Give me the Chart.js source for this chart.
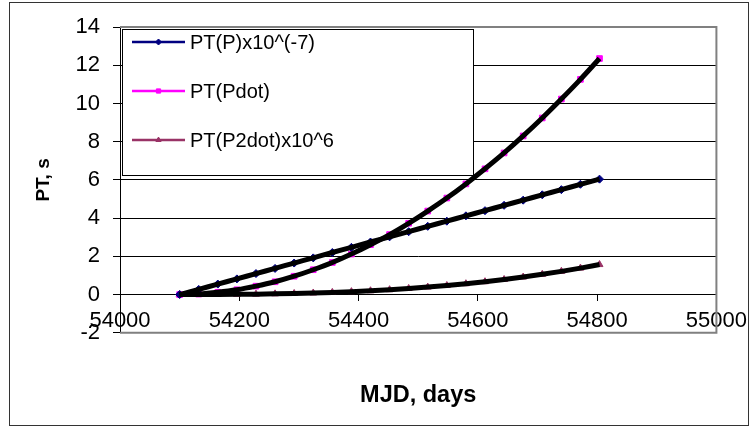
<!DOCTYPE html>
<html>
<head>
<meta charset="utf-8">
<script src="https://cdn.jsdelivr.net/npm/chart.js@4/dist/chart.umd.min.js"></script>
<style>
    body { margin: 0; background: #ffffff; }
    #wrap { width: 754px; height: 432px; }
</style>
</head>
<body>
<div id="wrap"><canvas id="ChartPT" width="754" height="432"></canvas></div>
<script>
const mjd = [54100, 54132, 54164, 54196, 54228, 54260, 54292, 54324, 54356, 54388, 54420, 54452,
    54484, 54516, 54548, 54580, 54612, 54644, 54676, 54708, 54740, 54772, 54804];
const ptP = [0, 0.27, 0.55, 0.82, 1.10, 1.37, 1.65, 1.92, 2.20, 2.47, 2.75, 3.02,
    3.29, 3.57, 3.84, 4.12, 4.39, 4.67, 4.94, 5.22, 5.49, 5.77, 6.04];
const ptPdot = [0, 0.03, 0.12, 0.25, 0.44, 0.67, 0.96, 1.30, 1.68, 2.12, 2.61, 3.14,
    3.73, 4.37, 5.05, 5.79, 6.58, 7.41, 8.30, 9.24, 10.23, 11.26, 12.35];
const ptP2dot = [0, 0.001, 0.005, 0.012, 0.022, 0.037, 0.057, 0.083, 0.115, 0.154, 0.20, 0.255,
    0.319, 0.391, 0.474, 0.567, 0.672, 0.788, 0.917, 1.059, 1.215, 1.385, 1.57];

const seriesLabels = ['PT(P)x10^(-7)', 'PT(Pdot)', 'PT(P2dot)x10^6'];
const seriesColors = ['#000080', '#ff00ff', '#993366'];
const seriesMarkers = ['rectRot', 'rect', 'triangle'];
const seriesValues = [ptP, ptPdot, ptP2dot];

const FONT = "'Liberation Sans', Arial, sans-serif";

const datasets = [];
seriesValues.forEach((vals, i) => {
    const pts = mjd.map((m, k) => ({ x: m, y: vals[k] }));
    // coloured markers underneath
    datasets.push({
        label: seriesLabels[i],
        data: pts,
        showLine: false,
        pointStyle: seriesMarkers[i],
        pointRadius: 4,
        pointBackgroundColor: seriesColors[i],
        pointBorderColor: seriesColors[i],
        pointBorderWidth: 1,
        order: 2
    });
    // thick black line on top
    datasets.push({
        label: '',
        data: pts,
        borderColor: '#000000',
        borderWidth: 5,
        pointRadius: 0,
        cubicInterpolationMode: 'monotone',
        fill: false,
        order: 1
    });
});

const framePlugin = {
    id: 'frame',
    beforeDraw(chart) {
        const ctx = chart.ctx;
        ctx.save();
        ctx.fillStyle = '#ffffff';
        ctx.fillRect(0, 0, chart.width, chart.height);
        ctx.strokeStyle = '#333333';
        ctx.lineWidth = 1;
        ctx.strokeRect(9.5, 2.5, 739, 423);
        ctx.restore();
    },
    beforeDatasetsDraw(chart) {
        const a = chart.chartArea;
        const ctx = chart.ctx;
        ctx.save();
        ctx.strokeStyle = '#808080';
        ctx.lineWidth = 2;
        ctx.beginPath();
        ctx.moveTo(a.left, a.top);
        ctx.lineTo(a.right, a.top);
        ctx.lineTo(a.right, a.bottom);
        ctx.lineTo(a.left, a.bottom);
        ctx.stroke();
        ctx.restore();
    }
};

const legendPlugin = {
    id: 'excelLegend',
    afterDatasetsDraw(chart) {
        const ctx = chart.ctx;
        const box = { x: 122.5, y: 29.5, w: 351, h: 146 };
        ctx.save();
        ctx.fillStyle = '#ffffff';
        ctx.fillRect(box.x, box.y, box.w, box.h);
        ctx.strokeStyle = '#000000';
        ctx.lineWidth = 1;
        ctx.strokeRect(box.x, box.y, box.w, box.h);
        seriesLabels.forEach((lab, i) => {
            const y = 42 + i * 49;
            ctx.strokeStyle = seriesColors[i];
            ctx.lineWidth = 2.5;
            ctx.beginPath();
            ctx.moveTo(132, y);
            ctx.lineTo(185, y);
            ctx.stroke();
            ctx.fillStyle = seriesColors[i];
            ctx.lineWidth = 1;
            Chart.helpers.drawPoint(ctx, { pointStyle: seriesMarkers[i], radius: 3, borderWidth: 1 }, 158.5, y);
            ctx.fillStyle = '#000000';
            ctx.font = '20px ' + FONT;
            ctx.textBaseline = 'middle';
            ctx.textAlign = 'left';
            ctx.fillText(lab, 190, y + 1);
        });
        ctx.restore();
    }
};

new Chart(document.getElementById('ChartPT'), {
    type: 'line',
    data: { datasets: datasets },
    options: {
        responsive: false,
        animation: false,
        layout: { padding: { left: 10, right: 36, top: 27, bottom: 0 } },
        plugins: {
            legend: { display: false },
            tooltip: { enabled: false },
            title: {
                display: true,
                position: 'bottom',
                fullSize: false,
                text: 'MJD, days',
                color: '#000000',
                font: { family: FONT, size: 23.5, weight: 'bold' },
                padding: { top: 49, bottom: 22 }
            }
        },
        scales: {
            x: {
                type: 'linear',
                position: { y: 0 },
                min: 54000,
                max: 55000,
                afterFit(scale) { scale.height = 0; },
                ticks: {
                    stepSize: 200,
                    padding: 7,
                    color: '#000000',
                    font: { family: FONT, size: 22 },
                    callback: v => String(v)
                },
                grid: { drawOnChartArea: false, drawTicks: true, tickLength: 6, color: '#000000' },
                border: { display: true, color: '#000000', width: 1 }
            },
            y: {
                min: -2,
                max: 14,
                afterFit(scale) { scale.width = 110; },
                ticks: {
                    stepSize: 2,
                    padding: 13,
                    color: '#000000',
                    font: { family: FONT, size: 22 }
                },
                grid: { color: '#000000', lineWidth: 1, tickLength: 7 },
                border: { display: true, color: '#000000', width: 1 },
                title: {
                    display: true,
                    text: 'PT, s',
                    color: '#000000',
                    font: { family: FONT, size: 19, weight: 'bold' },
                    padding: { top: 22, bottom: 0 }
                }
            }
        }
    },
    plugins: [framePlugin, legendPlugin]
});
</script>
</body>
</html>
